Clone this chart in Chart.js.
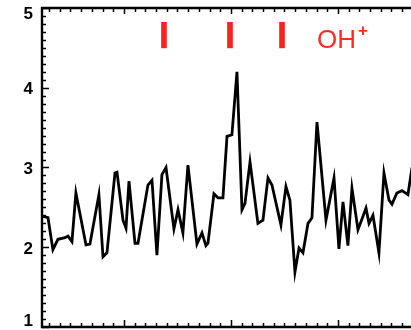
<!DOCTYPE html>
<html>
<head>
<meta charset="utf-8">
<script src="https://cdn.jsdelivr.net/npm/chart.js@4/dist/chart.umd.min.js"></script>
<style>
    html, body { margin: 0; padding: 0; background: #fff; overflow: hidden; }
    canvas { display: block; }
</style>
</head>
<body>
<canvas id="spectrum" width="420" height="330"></canvas>
<script>
// spectrum (x in arbitrary axis units, y in flux units)
const waveX = [2.34, 2.90, 3.36, 3.83, 4.49, 4.77, 5.14, 5.51, 6.45, 6.82,
    7.66, 8.04, 8.41, 9.16, 9.35, 9.91, 10.19, 10.47, 11.03, 11.31,
    12.24, 12.62, 13.08, 13.55, 13.93, 14.67, 15.05, 15.51, 15.98, 16.82,
    17.29, 17.66, 17.85, 18.41, 18.79, 19.25, 19.63, 20.09, 20.56, 21.03,
    21.31, 21.78, 22.52, 22.99, 23.46, 23.83, 24.67, 25.14, 25.51, 25.98,
    26.36, 26.73, 27.20, 27.57, 28.04, 28.88, 29.63, 30.09, 30.47, 30.93,
    31.31, 31.87, 32.62, 32.90, 33.27, 33.83, 34.30, 34.77, 35.05, 35.51,
    35.98, 36.54, 36.92];
const flux = [2.39, 2.37, 1.97, 2.10, 2.12, 2.14, 2.07, 2.68, 2.03, 2.04,
    2.66, 1.88, 1.93, 2.93, 2.94, 2.34, 2.24, 2.83, 2.05, 2.05,
    2.78, 2.84, 1.90, 2.91, 3.00, 2.23, 2.47, 2.18, 3.03, 2.04,
    2.18, 2.02, 2.05, 2.67, 2.62, 2.62, 3.39, 3.41, 4.20, 2.47,
    2.55, 3.07, 2.30, 2.34, 2.87, 2.78, 2.28, 2.76, 2.59, 1.69,
    1.99, 1.93, 2.30, 2.37, 3.57, 2.34, 2.87, 1.98, 2.57, 2.02,
    2.74, 2.22, 2.49, 2.30, 2.40, 1.93, 2.93, 2.59, 2.54, 2.68,
    2.71, 2.66, 3.00];

// OH+ line markers
const ohLines = [13.74, 19.91, 24.77];
const ohMarkRange = [4.50, 4.82];
const ohLabel = 'OH';
const ohCharge = '+';

// axes
const xRange = [2.34, 37.48];
const yRange = [1, 5];
const xMajorTicks = [10, 20, 30];
const xMinorStep = 1;
const yMajorTicks = [1, 2, 3, 4, 5];
const yMinorStep = 0.1;

const FONT = '"Liberation Sans", Arial, sans-serif';

// IDL style frame: inward ticks on left, top and bottom, labels on the left
const axisFrame = {
    id: 'axisFrame',
    afterDraw(chart) {
        const { ctx, chartArea: a, scales: { x, y } } = chart;
        ctx.save();
        ctx.strokeStyle = '#000';
        ctx.lineWidth = 2.4;
        ctx.beginPath();
        ctx.moveTo(a.right + 5, a.top);
        ctx.lineTo(a.left, a.top);
        ctx.lineTo(a.left, a.bottom);
        ctx.lineTo(a.right + 5, a.bottom);
        ctx.stroke();

        ctx.lineWidth = 1.5;
        ctx.beginPath();
        // y ticks
        for (let v = yRange[0]; v <= yRange[1] + 1e-6; v += yMinorStep) {
            const isMajor = yMajorTicks.some(t => Math.abs(t - v) < 1e-6);
            const py = Math.round(y.getPixelForValue(v)) + 0.5;
            ctx.moveTo(a.left, py);
            ctx.lineTo(a.left + (isMajor ? 7 : 4), py);
        }
        // x ticks, top and bottom
        for (let v = Math.ceil(xRange[0]); v <= xRange[1]; v += xMinorStep) {
            const isMajor = xMajorTicks.includes(v);
            const px = Math.round(x.getPixelForValue(v)) + 0.5;
            ctx.moveTo(px, a.top);
            ctx.lineTo(px, a.top + (isMajor ? 6 : 4));
            ctx.moveTo(px, a.bottom);
            ctx.lineTo(px, a.bottom - (isMajor ? 7 : 4));
        }
        ctx.stroke();

        ctx.fillStyle = '#000';
        ctx.font = `bold 17px ${FONT}`;
        ctx.textAlign = 'right';
        ctx.textBaseline = 'middle';
        yMajorTicks.forEach(t => {
            let py = y.getPixelForValue(t) + 2;
            py = Math.min(Math.max(py, a.top + 6), a.bottom - 6);
            ctx.fillText(String(t), a.left - 9, py);
        });

        // OH+ label
        const lx = x.getPixelForValue(28.04);
        const ly = y.getPixelForValue(4.50);
        ctx.fillStyle = '#ff2a2a';
        ctx.textAlign = 'left';
        ctx.textBaseline = 'alphabetic';
        ctx.font = `26px ${FONT}`;
        ctx.fillText(ohLabel, lx, ly);
        const w = ctx.measureText(ohLabel).width;
        ctx.font = `bold 17px ${FONT}`;
        ctx.fillText(ohCharge, lx + w + 2, ly - 12);
        ctx.restore();
    }
};

new Chart(document.getElementById('spectrum'), {
    type: 'line',
    data: {
        datasets: [{
            type: 'line',
            data: waveX.map((v, i) => ({ x: v, y: flux[i] })),
            borderColor: '#000',
            borderWidth: 2.8,
            pointRadius: 0,
            tension: 0,
            fill: false
        }, {
            type: 'bar',
            data: ohLines.map(v => ({ x: v, y: ohMarkRange })),
            backgroundColor: '#ff2020',
            borderWidth: 0,
            barThickness: 5
        }]
    },
    options: {
        responsive: false,
        animation: false,
        events: [],
        layout: { padding: { left: 42, top: 8, right: 2, bottom: 3 } },
        plugins: { legend: { display: false }, tooltip: { enabled: false } },
        scales: {
            x: { type: 'linear', display: false, offset: false, min: xRange[0], max: xRange[1] },
            y: { type: 'linear', display: false, min: yRange[0], max: yRange[1] }
        }
    },
    plugins: [axisFrame]
});
</script>
</body>
</html>
